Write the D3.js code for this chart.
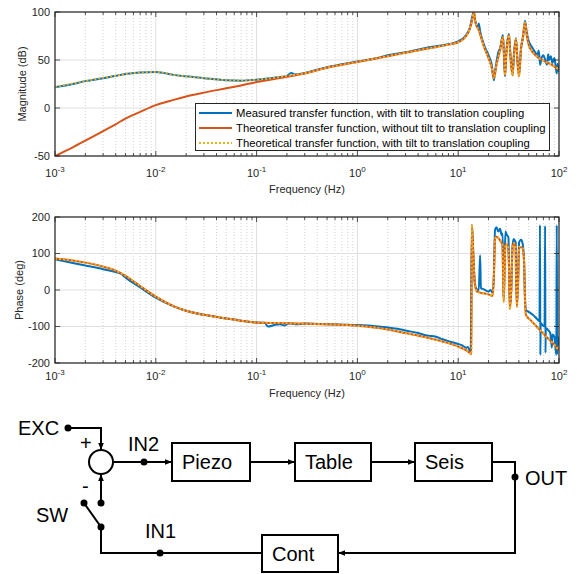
<!DOCTYPE html>
<html>
<head>
<meta charset="utf-8">
<script src="https://cdn.jsdelivr.net/npm/d3@7"></script>
<style>
  body { margin: 0; background: #fff; }
  svg { display: block; font-family: "Liberation Sans", Arial, sans-serif; }
</style>
</head>
<body>
<script>
/* ---- data ---- */
const freqTicks = [1e-3, 1e-2, 1e-1, 1, 10, 100]
const freqTickExp = ['-3', '-2', '-1', '0', '1', '2']
const magTicks = [-50, 0, 50, 100]
const phaseTicks = [-200, -100, 0, 100, 200]
const legendLabels = [
  'Measured transfer function, with tilt to translation coupling',
  'Theoretical transfer function, without tilt to translation coupling',
  'Theoretical transfer function, with tilt to translation coupling'
]

// [frequency Hz, magnitude dB]
const magMeasured = [[0.001,21.5],[0.0015,25],[0.002,28],[0.003,31],[0.004,33.5],[0.005,35.5],[0.007,37],[0.01,37.5],[0.012,36.5],[0.015,34.5],[0.02,33],[0.03,31],[0.05,29],[0.07,28.5],[0.1,29.5],[0.15,31.5],[0.2,33.5],[0.22,36.5],[0.24,35],[0.3,36.5],[0.5,42.5],[0.7,45.5],[1,48.5],[1.5,51.5],[2,55],[3,58],[5,63],[7,65.5],[10,69.5],[12,76],[13,83],[14.3,100],[14.8,90],[15.5,84],[16,88],[16.5,80],[18,66],[20,55],[21.5,45],[22.6,29],[23,35],[24,48],[25,58],[26,62],[27.8,76],[28.4,55],[29.1,33],[30,58],[31.9,77],[33,56],[34.6,35],[35.8,58],[37.4,73],[38.6,52],[40.1,34],[42,62],[44,74],[46,91],[48,78],[50,70],[52,66],[55,62],[58,58],[61,55],[63,60],[65,45],[67,52],[70,55],[73,50],[76,45],[78,56],[80,50],[83,54],[86,47],[90,52],[93,42],[95,36],[97,46],[100,38]]
const magNoTilt = [[0.001,-50],[0.0015,-41],[0.002,-34],[0.003,-24],[0.004,-17],[0.005,-11],[0.007,-4],[0.01,3],[0.015,8.5],[0.02,12],[0.03,16],[0.05,20.5],[0.07,23.5],[0.1,27],[0.2,32.5],[0.3,36],[0.5,42],[1,48],[2,54],[5,62],[8,66],[10,68.5],[12,75],[13,82],[13.8,92],[14.3,100],[14.8,90],[16,81],[18,64],[20,52],[21.5,42],[22.6,31],[24,45],[26,60],[27.8,74],[28.6,52],[29.1,34],[30,55],[31.9,76],[33,52],[34.6,34],[35.8,55],[37.4,72],[38.6,50],[40.1,33],[42,62],[44,75],[46,89],[48,75],[50,66],[54,59],[60,54],[68,50],[85,45],[100,40]]
// low-frequency part of the theoretical curve with tilt coupling (joins magNoTilt above 0.3 Hz)
const magTiltLow = [[0.001,22],[0.0015,25.5],[0.002,28],[0.003,31.5],[0.004,33.5],[0.005,35.3],[0.007,37],[0.01,37.5],[0.012,36.8],[0.015,34.5],[0.02,33],[0.03,31],[0.05,29],[0.07,28.5],[0.1,29.5],[0.15,31.5],[0.2,33.5],[0.3,36.2]]

// [frequency Hz, phase deg]
const phaseMeasured = [[0.001,84],[0.0015,74],[0.002,67],[0.003,57],[0.004,49],[0.0045,45],[0.005,34],[0.007,7],[0.01,-21],[0.015,-45],[0.02,-57],[0.03,-68],[0.05,-78],[0.07,-84],[0.1,-89],[0.12,-90],[0.13,-100],[0.15,-96],[0.17,-94],[0.19,-97],[0.21,-91],[0.25,-94],[0.3,-92],[0.4,-93],[0.5,-94],[0.7,-95],[1,-96],[1.5,-99],[2,-103],[2.5,-106],[3,-111],[4,-118],[5,-125],[6,-128],[7,-135],[8,-140],[10,-148],[11,-152],[12,-158],[12.5,-156],[13.3,-172],[13.65,178],[13.9,150],[14.3,60],[14.8,10],[15.3,2],[16,0],[16.5,95],[16.8,5],[18,2],[19,-2],[20,-4],[21,0],[22,-8],[22.6,40],[23.2,165],[24,172],[25,160],[26,168],[27,150],[27.6,155],[28,30],[28.3,-28],[28.8,60],[29.4,160],[30.5,150],[31.5,145],[32,60],[32.5,-45],[33.5,-5],[34.6,120],[35.5,140],[36.5,135],[37.2,130],[37.6,40],[38.2,-42],[39.2,20],[40.2,130],[42,138],[43.5,128],[45,80],[46,-20],[47,-55],[50,-60],[55,-68],[60,-78],[64,-85],[64.8,178],[65.3,-178],[65.8,-90],[68,-95],[72,-100],[72.8,176],[73.4,-172],[74,-104],[78,-110],[82,-118],[85,-158],[86,-122],[90,-128],[94,-178],[95,178],[96,-175],[97,-135],[99,-130],[100,-152]]
// theoretical phase, both models overlap
const phaseTheory = [[0.001,86],[0.0015,81],[0.002,75],[0.003,64],[0.004,53],[0.005,39],[0.007,11],[0.01,-18],[0.015,-44],[0.02,-57],[0.03,-68],[0.05,-78],[0.07,-84],[0.1,-89],[0.2,-91],[0.5,-94],[1,-98],[2,-108],[3,-118],[5,-131],[7,-141],[10,-155],[12.5,-168],[13.55,-176],[13.65,178],[13.9,140],[14.2,80],[14.6,20],[15.3,-4],[17,-8],[20,-12],[22,-16],[22.6,40],[23.2,140],[24,146],[26,136],[27.4,124],[27.8,60],[28.3,-32],[28.8,40],[29.4,126],[31,125],[31.9,60],[32.5,-52],[33.5,-10],[34.6,115],[35.5,128],[37,120],[37.4,50],[38.2,-46],[39.2,10],[40.2,118],[43.5,115],[45,80],[46,-30],[47,-68],[52,-82],[60,-100],[70,-120],[80,-136],[90,-150],[100,-166]]

const magTilt = magTiltLow.concat(magNoTilt.filter(d => d[0] > 0.3))

/* ---- styles ---- */
const BLUE = '#0072BD', ORANGE = '#D95319', YELLOW = '#EDB120', AX = '#262626'

const svg = d3.select('body').append('svg').attr('width', 577).attr('height', 574)
const defs = svg.append('defs')
defs.append('marker')
  .attr('id', 'arrow').attr('viewBox', '0 0 8 8')
  .attr('refX', 8).attr('refY', 4)
  .attr('markerWidth', 7).attr('markerHeight', 7)
  .attr('markerUnits', 'userSpaceOnUse')
  .attr('orient', 'auto')
  .append('path').attr('d', 'M0,0.8 L8,4 L0,7.2 z').attr('fill', '#000')

const x = d3.scaleLog().domain([1e-3, 1e2]).range([55, 559])

function panel(id, y, yTicks, yLabel, yLabelX, xTickY, xLabelY, series) {
  const [yb, yt] = y.range()
  const [xl, xr] = x.range()
  const g = svg.append('g')

  defs.append('clipPath').attr('id', id)
    .append('rect').attr('x', xl).attr('y', yt).attr('width', xr - xl).attr('height', yb - yt)

  /* grid: minor dotted, major solid */
  const minors = []
  d3.range(-3, 2).forEach(k => d3.range(2, 10).forEach(m => minors.push(m * Math.pow(10, k))))
  g.selectAll('.minor').data(minors).join('line')
    .attr('x1', d => x(d)).attr('x2', d => x(d)).attr('y1', yt).attr('y2', yb)
    .attr('stroke', '#c8c8c8').attr('stroke-width', 0.8).attr('stroke-dasharray', '1,2')
  g.selectAll('.vmajor').data(freqTicks).join('line')
    .attr('x1', d => x(d)).attr('x2', d => x(d)).attr('y1', yt).attr('y2', yb)
    .attr('stroke', '#dfdfdf').attr('stroke-width', 1)
  g.selectAll('.hmajor').data(yTicks).join('line')
    .attr('x1', xl).attr('x2', xr).attr('y1', d => y(d)).attr('y2', d => y(d))
    .attr('stroke', '#dfdfdf').attr('stroke-width', 1)

  /* curves */
  const line = d3.line().x(d => x(d[0])).y(d => y(d[1])).curve(d3.curveMonotoneX)
  const plot = g.append('g').attr('clip-path', `url(#${id})`)
  series.forEach(s => {
    plot.append('path').datum(s.data)
      .attr('d', line)
      .attr('fill', 'none')
      .attr('stroke', s.color)
      .attr('stroke-width', s.width)
      .attr('stroke-linejoin', 'round')
      .attr('stroke-dasharray', s.dash || null)
  })

  /* ticks inside the box, all four sides */
  const tk = g.append('g').attr('stroke', AX).attr('stroke-width', 0.8)
  freqTicks.forEach(d => {
    tk.append('line').attr('x1', x(d)).attr('x2', x(d)).attr('y1', yb).attr('y2', yb - 5)
    tk.append('line').attr('x1', x(d)).attr('x2', x(d)).attr('y1', yt).attr('y2', yt + 5)
  })
  minors.forEach(d => {
    tk.append('line').attr('x1', x(d)).attr('x2', x(d)).attr('y1', yb).attr('y2', yb - 3)
    tk.append('line').attr('x1', x(d)).attr('x2', x(d)).attr('y1', yt).attr('y2', yt + 3)
  })
  yTicks.forEach(d => {
    tk.append('line').attr('x1', xl).attr('x2', xl + 5).attr('y1', y(d)).attr('y2', y(d))
    tk.append('line').attr('x1', xr).attr('x2', xr - 5).attr('y1', y(d)).attr('y2', y(d))
  })

  g.append('rect').attr('x', xl).attr('y', yt).attr('width', xr - xl).attr('height', yb - yt)
    .attr('fill', 'none').attr('stroke', AX).attr('stroke-width', 1.2)

  /* tick labels */
  g.selectAll('.ylab').data(yTicks).join('text')
    .attr('x', xl - 5).attr('y', d => y(d)).attr('dy', '0.35em')
    .attr('text-anchor', 'end').attr('font-size', 11).attr('fill', AX)
    .text(d => String(d))
  const xt = g.selectAll('.xlab').data(freqTicks).join('text')
    .attr('x', d => x(d)).attr('y', xTickY)
    .attr('text-anchor', 'middle').attr('font-size', 11).attr('fill', AX)
  xt.append('tspan').text('10')
  xt.append('tspan').attr('dy', -5).attr('font-size', 8).text((d, i) => freqTickExp[i])

  g.append('text').attr('x', (xl + xr) / 2).attr('y', xLabelY)
    .attr('text-anchor', 'middle').attr('font-size', 11).attr('fill', AX)
    .text('Frequency (Hz)')
  g.append('text')
    .attr('transform', `translate(${yLabelX},${(yt + yb) / 2}) rotate(-90)`)
    .attr('text-anchor', 'middle').attr('font-size', 11).attr('fill', AX)
    .text(yLabel)
  return g
}

/* magnitude */
const yMag = d3.scaleLinear().domain([-50, 100]).range([156, 12])
const gMag = panel('clipMag', yMag, magTicks, 'Magnitude (dB)', 26, 177, 193, [
  { data: magMeasured, color: BLUE, width: 2 },
  { data: magNoTilt, color: ORANGE, width: 2 },
  { data: magTilt, color: YELLOW, width: 2, dash: '2,2' }
])

/* legend */
const leg = gMag.append('g')
leg.append('rect').attr('x', 195.5).attr('y', 103.5).attr('width', 354).attr('height', 47)
  .attr('fill', '#fff').attr('stroke', AX).attr('stroke-width', 1)
const legStyles = [
  { color: BLUE, dash: null },
  { color: ORANGE, dash: null },
  { color: YELLOW, dash: '2,2' }
]
legendLabels.forEach((t, i) => {
  const yy = 113 + i * 15
  leg.append('line').attr('x1', 199).attr('x2', 232).attr('y1', yy).attr('y2', yy)
    .attr('stroke', legStyles[i].color).attr('stroke-width', 2)
    .attr('stroke-dasharray', legStyles[i].dash)
  leg.append('text').attr('x', 236).attr('y', yy).attr('dy', '0.35em')
    .attr('font-size', 11.3).attr('fill', '#000').text(t)
})

/* phase */
const yPh = d3.scaleLinear().domain([-200, 200]).range([363, 217])
panel('clipPh', yPh, phaseTicks, 'Phase (deg)', 23, 380, 397, [
  { data: phaseMeasured, color: BLUE, width: 2 },
  { data: phaseTheory, color: ORANGE, width: 2 },
  { data: phaseTheory, color: YELLOW, width: 2, dash: '2,2' }
])

/* ---- block diagram ---- */
const dg = svg.append('g').attr('stroke', '#000').attr('stroke-width', 2).attr('fill', 'none')
const lab = svg.append('g').attr('font-size', 20).attr('fill', '#000')

const blocks = [
  { name: 'Piezo', x0: 172, x1: 250, y0: 443, y1: 481 },
  { name: 'Table', x0: 295, x1: 371, y0: 443, y1: 481 },
  { name: 'Seis', x0: 415, x1: 492, y0: 443, y1: 481 },
  { name: 'Cont', x0: 262, x1: 338, y0: 535, y1: 572 }
]
blocks.forEach(b => {
  dg.append('rect').attr('x', b.x0).attr('y', b.y0).attr('width', b.x1 - b.x0).attr('height', b.y1 - b.y0)
  lab.append('text').attr('x', b.x0 + 10).attr('y', (b.y0 + b.y1) / 2 + 7).text(b.name)
})

const path = (pts, arrow) => dg.append('path')
  .attr('d', d3.line()(pts))
  .attr('marker-end', arrow ? 'url(#arrow)' : null)

const sumX = 101, sumY = 462, sumR = 12
dg.append('circle').attr('cx', sumX).attr('cy', sumY).attr('r', sumR)

path([[68, 428], [sumX, 428], [sumX, sumY - sumR]], true)        // EXC -> sum
path([[sumX + sumR, sumY], [172, sumY]], true)                    // sum -> Piezo
path([[250, sumY], [295, sumY]], true)                            // Piezo -> Table
path([[371, sumY], [415, sumY]], true)                            // Table -> Seis
path([[492, sumY], [515, sumY], [515, 553], [338, 553]], true)    // Seis -> Cont
path([[262, 553], [sumX, 553], [sumX, 527]], false)               // Cont -> switch
path([[sumX, 527], [84, 503]], false)                             // switch blade
path([[sumX, 503], [sumX, sumY + sumR]], true)                    // switch -> sum

const dots = [[68, 428], [144, sumY], [515, 477], [160, 553], [sumX, 527], [84, 503], [sumX, 503]]
svg.append('g').selectAll('circle').data(dots).join('circle')
  .attr('cx', d => d[0]).attr('cy', d => d[1]).attr('r', 3.5).attr('fill', '#000')

const labels = [
  ['EXC', 18, 435], ['IN2', 128, 451], ['SW', 36, 522], ['IN1', 145, 538], ['OUT', 525, 485],
  ['+', 80, 450], ['-', 82, 493]
]
labels.forEach(([t, lx, ly]) => lab.append('text').attr('x', lx).attr('y', ly).text(t))
</script>
</body>
</html>
